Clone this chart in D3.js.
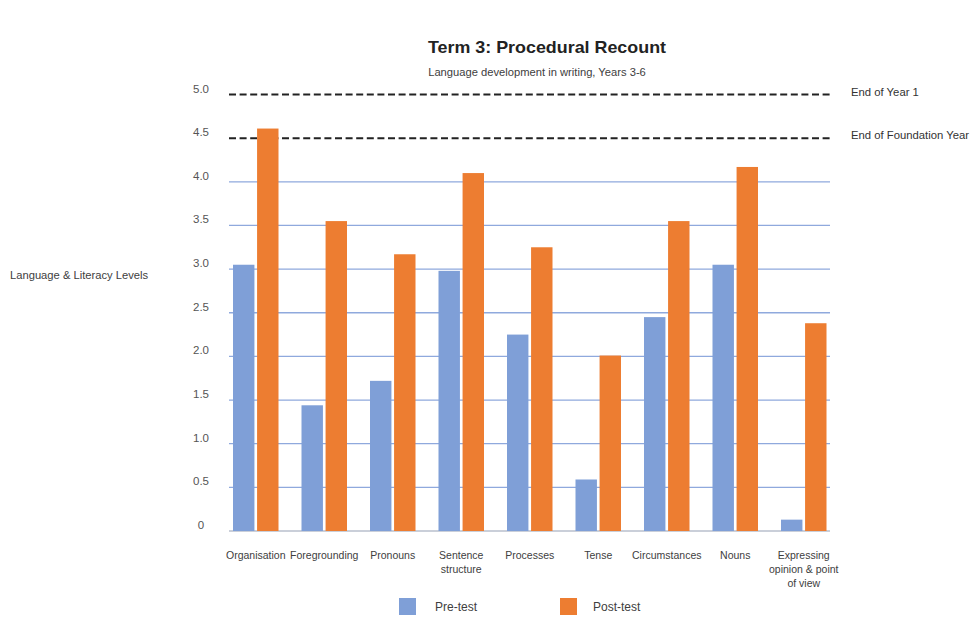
<!DOCTYPE html>
<html>
<head>
<meta charset="utf-8">
<script src="https://cdn.jsdelivr.net/npm/d3@7"></script>
<style>
  html, body { margin: 0; padding: 0; background: #fff; }
  svg { display: block; }
  text { font-family: "Liberation Sans", Arial, sans-serif; }
</style>
</head>
<body>
<svg id="chart" width="973" height="617"></svg>
<script>
const categories = [
  ["Organisation"],
  ["Foregrounding"],
  ["Pronouns"],
  ["Sentence", "structure"],
  ["Processes"],
  ["Tense"],
  ["Circumstances"],
  ["Nouns"],
  ["Expressing", "opinion & point", "of view"]
];
const preTest  = [3.05, 1.44, 1.72, 2.98, 2.25, 0.59, 2.45, 3.05, 0.13];
const postTest = [4.61, 3.55, 3.17, 4.10, 3.25, 2.01, 3.55, 4.17, 2.38];
const seriesNames = ["Pre-test", "Post-test"];
const yTicks = [0, 0.5, 1.0, 1.5, 2.0, 2.5, 3.0, 3.5, 4.0];
const yTickLabels = ["0", "0.5", "1.0", "1.5", "2.0", "2.5", "3.0", "3.5", "4.0", "4.5", "5.0"];
const benchmarkValues = [5.0, 4.5];
const benchmarkLabels = ["End of Year 1", "End of Foundation Year"];
const title = "Term 3: Procedural Recount";
const subtitle = "Language development in writing, Years 3-6";
const yTitle = "Language & Literacy Levels";

const colors = ["#7f9fd7", "#ed7d31"];

const svg = d3.select("#chart");

const catKeys = categories.map(c => c.join(" "));
const x = d3.scaleBand().domain(catKeys).range([221.5, 838]).padding(0);
const xs = d3.scaleBand().domain(seriesNames).range([11.5, 57]).paddingInner(0.11);
const y = d3.scaleLinear().domain([0, 5]).range([531, 94.5]);

const gridX0 = 229, gridX1 = 830;

// title & subtitle
svg.append("text").attr("x", 547).attr("y", 53).attr("text-anchor", "middle")
  .attr("font-size", 17).attr("font-weight", "bold").attr("fill", "#222")
  .attr("textLength", 238).attr("lengthAdjust", "spacingAndGlyphs")
  .text(title);
svg.append("text").attr("x", 537).attr("y", 76).attr("text-anchor", "middle")
  .attr("font-size", 11.2).attr("fill", "#404040")
  .text(subtitle);

// gridlines
svg.append("g").selectAll("line").data(yTicks).join("line")
  .attr("x1", gridX0).attr("x2", gridX1)
  .attr("y1", d => y(d)).attr("y2", d => y(d))
  .attr("stroke", d => d === 0 ? "#b8bfcc" : "#8fa9dd").attr("stroke-width", 1.3);

// y tick labels
const allTicks = d3.range(0, 5.01, 0.5);
svg.append("g").selectAll("text").data(allTicks).join("text")
  .attr("x", 201).attr("y", d => y(d) - 2)
  .attr("text-anchor", "middle").attr("font-size", 11.5).attr("fill", "#555")
  .text((d, i) => yTickLabels[i]);

// y title
svg.append("text").attr("x", 10).attr("y", 279)
  .attr("font-size", 11.2).attr("fill", "#404040").text(yTitle);

// benchmark dashed lines
svg.append("g").selectAll("line").data(benchmarkValues).join("line")
  .attr("x1", gridX0).attr("x2", gridX1)
  .attr("y1", d => y(d)).attr("y2", d => y(d))
  .attr("stroke", "#222").attr("stroke-width", 2).attr("stroke-dasharray", "7,3.6");
svg.append("g").selectAll("text").data(benchmarkValues).join("text")
  .attr("x", 851).attr("y", d => y(d) + 1)
  .attr("font-size", 11.3).attr("fill", "#333")
  .text((d, i) => benchmarkLabels[i]);

// bars
const series = [preTest, postTest];
series.forEach((vals, si) => {
  svg.append("g").selectAll("rect").data(vals).join("rect")
    .attr("x", (d, i) => x(catKeys[i]) + xs(seriesNames[si]))
    .attr("width", xs.bandwidth())
    .attr("y", d => y(d))
    .attr("height", d => y(0) - y(d))
    .attr("fill", colors[si]);
});

// x labels
const xl = svg.append("g").selectAll("text").data(categories).join("text")
  .attr("x", (d, i) => x(catKeys[i]) + x.bandwidth() / 2)
  .attr("y", 559).attr("text-anchor", "middle")
  .attr("font-size", 10.5).attr("fill", "#404040");
xl.each(function(d, i) {
  const t = d3.select(this);
  d.forEach((line, li) => {
    t.append("tspan").attr("x", x(catKeys[i]) + x.bandwidth() / 2)
      .attr("dy", li === 0 ? 0 : 14).text(line);
  });
});

// legend
const legendX = [399, 560];
const legendTextDx = [36, 33];
seriesNames.forEach((name, si) => {
  svg.append("rect").attr("x", legendX[si]).attr("y", 598).attr("width", 17).attr("height", 17)
    .attr("fill", colors[si]);
  svg.append("text").attr("x", legendX[si] + legendTextDx[si]).attr("y", 611)
    .attr("font-size", 12).attr("fill", "#404040").text(name);
});
</script>
</body>
</html>
